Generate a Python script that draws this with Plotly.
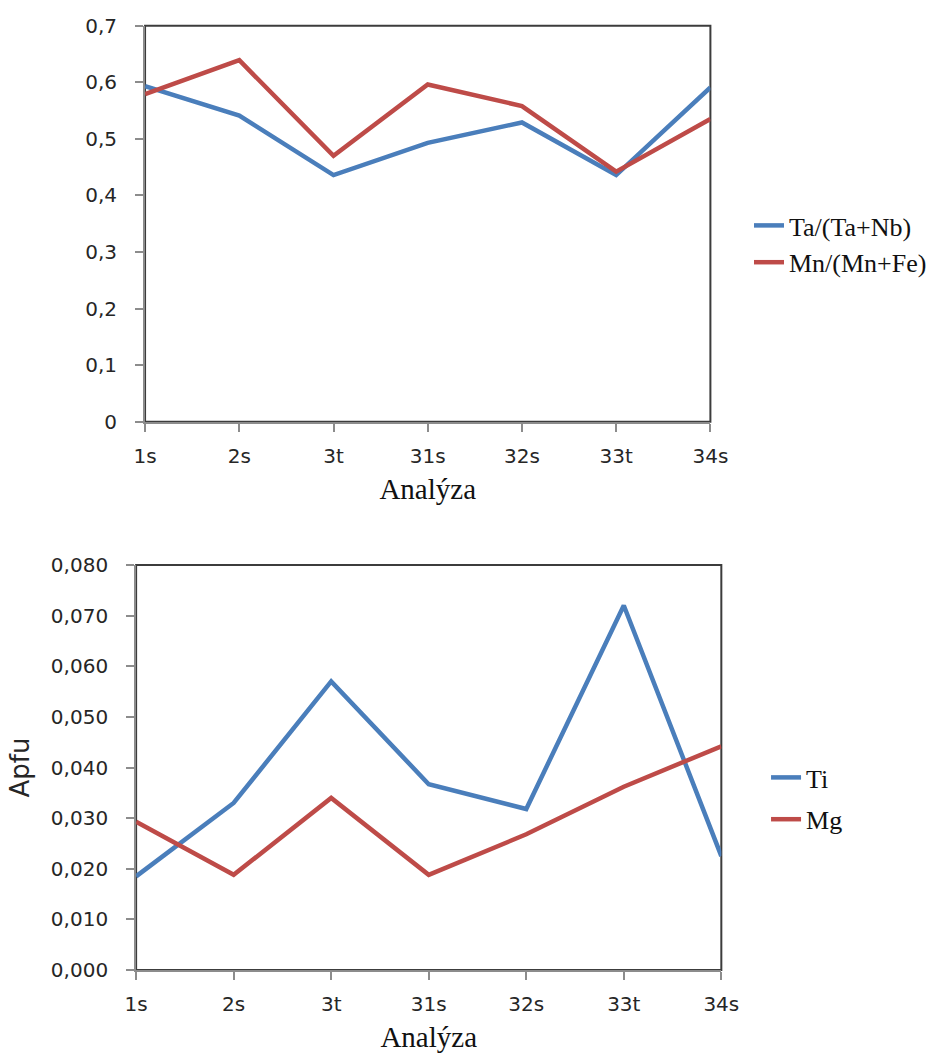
import plotly.graph_objects as go

categories = ["1s", "2s", "3t", "31s", "32s", "33t", "34s"]

ta_ratio = [0.593, 0.541, 0.436, 0.493, 0.529, 0.436, 0.591]
mn_ratio = [0.579, 0.639, 0.470, 0.596, 0.558, 0.442, 0.535]

ti_apfu = [0.0185, 0.033, 0.057, 0.0367, 0.0318, 0.072, 0.0225]
mg_apfu = [0.0293, 0.0188, 0.034, 0.0188, 0.0268, 0.0362, 0.0442]

top_ticks = [0, 0.1, 0.2, 0.3, 0.4, 0.5, 0.6, 0.7]
top_ticktext = ["0", "0,1", "0,2", "0,3", "0,4", "0,5", "0,6", "0,7"]
bot_ticks = [0, 0.01, 0.02, 0.03, 0.04, 0.05, 0.06, 0.07, 0.08]
bot_ticktext = ["0,000", "0,010", "0,020", "0,030", "0,040", "0,050", "0,060", "0,070", "0,080"]

BLUE = "#4A7EBB"
RED = "#BE4B48"
AXIS_GRAY = "#8c8c8c"
W, H = 932, 1055

fig = go.Figure()
fig.add_trace(go.Scatter(x=categories, y=ta_ratio, mode="lines", name="Ta/(Ta+Nb)",
                         line=dict(color=BLUE, width=4.5), xaxis="x", yaxis="y", legend="legend"))
fig.add_trace(go.Scatter(x=categories, y=mn_ratio, mode="lines", name="Mn/(Mn+Fe)",
                         line=dict(color=RED, width=4.5), xaxis="x", yaxis="y", legend="legend"))
fig.add_trace(go.Scatter(x=categories, y=ti_apfu, mode="lines", name="Ti", legendgroup="ti",
                         line=dict(color=BLUE, width=4.5), xaxis="x2", yaxis="y2", legend="legend2"))
fig.add_trace(go.Scatter(x=categories, y=mg_apfu, mode="lines", name="Mg", legendgroup="mg",
                         line=dict(color=RED, width=4.5), xaxis="x2", yaxis="y2", legend="legend2"))

tickfont = dict(family="DejaVu Sans, sans-serif", size=20, color="#262626")
serif = "Liberation Serif, Times New Roman, serif"

def xaxis(domain, anchor):
    return dict(domain=domain, anchor=anchor, type="category", range=[0, 6],
                automargin=False,
                showline=True, linecolor=AXIS_GRAY, linewidth=2,
                ticks="outside", ticklen=8, tickcolor=AXIS_GRAY, tickwidth=2,
                ticklabelstandoff=7,
                showgrid=False, zeroline=False, tickfont=tickfont,
                title=dict(text="Analýza", font=dict(family=serif, size=29, color="#111"), standoff=12))

def yaxis(domain, anchor, rng, tv, tt, title=None):
    d = dict(domain=domain, anchor=anchor, range=rng, tickvals=tv, ticktext=tt,
             automargin=False,
             showline=True, linecolor=AXIS_GRAY, linewidth=2,
             ticks="outside", ticklen=8, tickcolor=AXIS_GRAY, tickwidth=2,
             ticklabelstandoff=14,
             showgrid=False, zeroline=False, tickfont=tickfont)
    if title:
        d["title"] = dict(text=title, font=dict(family="DejaVu Sans, sans-serif", size=26, color="#262626"),
                          standoff=14)
    return d

top_x = [146 / W, 715 / W]
top_y = [1 - 421.7 / H, 1 - 25.7 / H]
bot_x = [137 / W, 726 / W]
bot_y = [1 - 970 / H, 1 - 565 / H]

fig.update_layout(
    width=W, height=H, margin=dict(l=0, r=0, t=0, b=0),
    paper_bgcolor="white", plot_bgcolor="white",
    xaxis=xaxis(top_x, "y"),
    yaxis=yaxis(top_y, "x", [0, 0.7], top_ticks, top_ticktext),
    xaxis2=xaxis(bot_x, "y2"),
    yaxis2=yaxis(bot_y, "x2", [0, 0.08], bot_ticks, bot_ticktext, "Apfu"),
    legend=dict(x=754 / W, y=1 - 202 / H, xanchor="left", yanchor="top",
                font=dict(family=serif, size=26, color="#111"),
                bgcolor="rgba(0,0,0,0)"),
    legend2=dict(x=771 / W, y=1 - 754 / H, xanchor="left", yanchor="top",
                 font=dict(family=serif, size=26, color="#111"),
                 tracegroupgap=5, bgcolor="rgba(0,0,0,0)"),
    shapes=[
        dict(type="rect", xref="x domain", yref="y domain", x0=0, x1=1, y0=0, y1=1,
             line=dict(color="#3c3c3c", width=2), layer="below"),
        dict(type="rect", xref="x2 domain", yref="y2 domain", x0=0, x1=1, y0=0, y1=1,
             line=dict(color="#3c3c3c", width=2), layer="below"),
    ],
)

fig.write_html("out.html")
